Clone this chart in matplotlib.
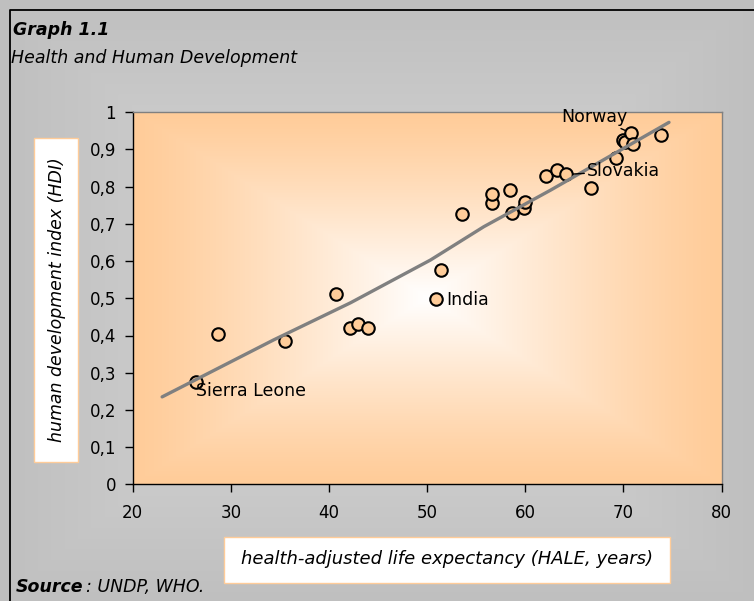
import numpy as np
import matplotlib.pyplot as plt
from matplotlib.patches import Rectangle
from matplotlib.lines import Line2D

# values
hale = [26.5, 28.7, 35.5, 40.7, 42.1, 43.0, 44.0, 50.9, 51.4, 53.6, 56.6, 56.6, 58.4,
        58.7, 59.9, 60.0, 62.1, 63.2, 64.2, 66.7, 69.2, 70.0, 70.2, 70.8, 71.0, 73.8]
hdi = [0.276, 0.404, 0.386, 0.512, 0.419, 0.431, 0.419, 0.498, 0.575, 0.726, 0.757, 0.780, 0.791,
       0.730, 0.744, 0.758, 0.829, 0.845, 0.833, 0.796, 0.876, 0.926, 0.921, 0.944, 0.914, 0.939]
trend_x = [23.0, 34.35, 42.2, 50.35, 55.78, 62.6, 74.65]
trend_y = [0.235, 0.388, 0.488, 0.603, 0.6925, 0.791, 0.973]

countries = ['Sierra Leone', 'India', 'Norway', 'Slovakia']
country_idx = [0, 7, 23, 18]
country_text_xy = [(26.5, 0.251), (52.0, 0.495), (63.7, 0.988), (66.3, 0.842)]
country_leader = [False, False, True, True]

x_ticks = [20, 30, 40, 50, 60, 70, 80]
y_ticks = [0, 0.1, 0.2, 0.3, 0.4, 0.5, 0.6, 0.7, 0.8, 0.9, 1.0]
y_ticklabels = ['0', '0,1', '0,2', '0,3', '0,4', '0,5', '0,6', '0,7', '0,8', '0,9', '1']

W, H = 754, 601
orange = np.array([255, 204, 153]) / 255.0

fig = plt.figure(figsize=(W / 100, H / 100), dpi=100)

# grey background, lighter towards the middle
bg = fig.add_axes([0, 0, 1, 1], zorder=-10)
u = np.linspace(-1, 1, 300)
U, V = np.meshgrid(u, u)
t = np.maximum(np.abs(U), np.abs(V))
g = 0.86 - (0.86 - 0.75) * t
bg.imshow(np.dstack([g, g, g]), extent=[0, 1, 0, 1], aspect='auto')
bg.set_xlim(0, 1)
bg.set_ylim(0, 1)
bg.set_axis_off()

# outer frame (top and left)
fig.add_artist(Line2D([10 / W, 10 / W, 1], [0, 1 - 10 / H, 1 - 10 / H],
                      color='black', lw=1.3, transform=fig.transFigure))

ax = fig.add_axes([132.7 / W, 116.7 / H, 588.8 / W, 372 / H])

# orange "from center" gradient in the plot area
w = (1 - t) ** 1.2
img = orange[None, None, :] + (1 - orange[None, None, :]) * w[:, :, None]
ax.imshow(img, extent=[20, 80, 0, 1], aspect='auto', zorder=0)

ax.plot(hale, hdi, 'o', ms=9, mfc='#FFCC99', mec='black', mew=1.5, zorder=3, clip_on=False)
ax.plot(trend_x, trend_y, color='#808080', lw=2.4, zorder=4, solid_capstyle='round')

for name, i, xy, leader in zip(countries, country_idx, country_text_xy, country_leader):
    arrow = dict(arrowstyle='-', color='black', lw=1, shrinkA=0, shrinkB=4.5) if leader else None
    ax.annotate(name, xy=(hale[i], hdi[i]), xytext=xy, ha='left', va='center',
                fontsize=12.5, arrowprops=arrow, zorder=5)

ax.set_xlim(20, 80)
ax.set_ylim(0, 1)
ax.set_xticks(x_ticks)
ax.set_xticklabels([str(v) for v in x_ticks])
ax.set_yticks(y_ticks)
ax.set_yticklabels(y_ticklabels)
ax.tick_params(direction='out', length=6, width=1, labelsize=12, colors='black')
ax.tick_params(axis='x', pad=8)
ax.tick_params(axis='y', pad=6)
for s in ['left', 'bottom']:
    ax.spines[s].set_color('black')
    ax.spines[s].set_linewidth(1)
for s in ['top', 'right']:
    ax.spines[s].set_color('#808080')
    ax.spines[s].set_linewidth(1)

# axis title boxes
fig.add_artist(Rectangle((34 / W, (H - 462) / H), 44 / W, 324 / H, transform=fig.transFigure,
                         facecolor='white', edgecolor='#FFCC99', lw=1))
fig.text(57 / W, 1 - 300 / H, 'human development index (HDI)', rotation=90,
         ha='center', va='center', style='italic', fontsize=12.5)
fig.add_artist(Rectangle((224 / W, 18.3 / H), 446 / W, 46 / H, transform=fig.transFigure,
                         facecolor='white', edgecolor='#FFCC99', lw=1))
fig.text(447 / W, 1 - 559 / H, 'health-adjusted life expectancy (HALE, years)',
         ha='center', va='center', style='italic', fontsize=13)

# titles
fig.text(13 / W, 1 - 35 / H, 'Graph 1.1', weight='bold', style='italic', fontsize=12.5, va='baseline')
fig.text(11 / W, 1 - 63 / H, 'Health and Human Development', style='italic', fontsize=12.5, va='baseline')

# source line
src = fig.text(16 / W, 1 - 592 / H, 'Source', weight='bold', style='italic', fontsize=12.5, va='baseline')
r = fig.canvas.get_renderer()
bb = src.get_window_extent(r)
fig.text(bb.x1 / W + 3 / W, 1 - 592 / H, ': UNDP, WHO.', style='italic', fontsize=12.5, va='baseline')

fig.savefig('out.png', dpi=100)
